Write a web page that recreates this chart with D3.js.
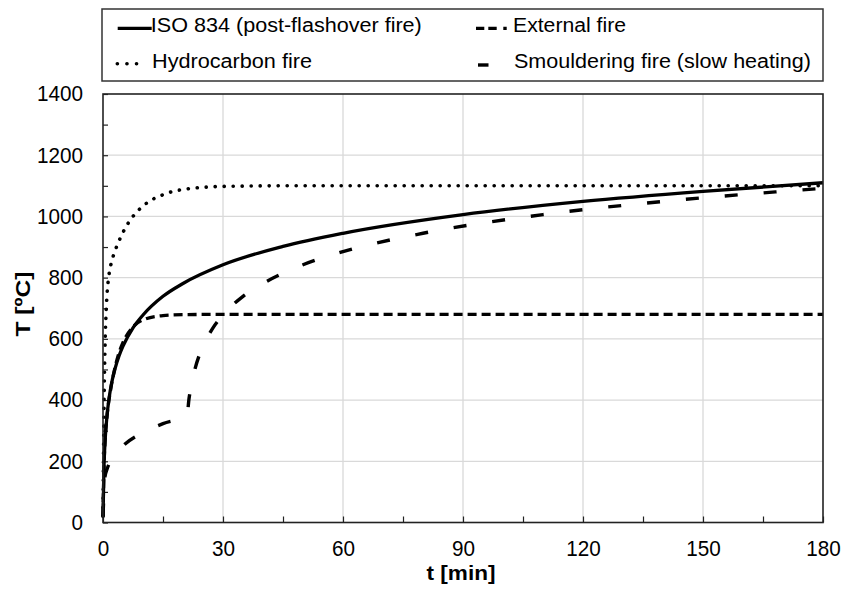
<!DOCTYPE html>
<html>
<head>
<meta charset="utf-8">
<script src="https://cdn.jsdelivr.net/npm/d3@7/dist/d3.min.js"></script>
<style>
  html, body { margin: 0; padding: 0; background: #fff; }
  svg { display: block; font-family: "Liberation Sans", Arial, Helvetica, sans-serif; }
</style>
</head>
<body>
<svg id="chart" width="842" height="589"></svg>
<script>
// ---- Data (time in minutes, temperature in °C) ----
const isoT   = [0, 0.25, 0.5, 1, 1.5, 2, 3, 4, 5, 7.5, 10, 15, 20, 30, 45, 60, 90, 120, 150, 180];
const isoV   = [20, 185, 261, 349, 404, 445, 502, 544, 576, 636, 678, 739, 781, 842, 902, 945, 1006, 1049, 1082, 1110];

const hydroT = [0, 0.1, 0.25, 0.5, 0.75, 1, 1.5, 2, 3, 4, 5, 7.5, 10, 15, 20, 30, 45, 60, 90, 120, 150, 180];
const hydroV = [20, 187, 373, 568, 679, 743, 810, 844, 887, 920, 948, 1000, 1034, 1071, 1088, 1098, 1100, 1100, 1100, 1100, 1100, 1100];

const extT   = [0, 0.25, 0.5, 1, 2, 3, 4, 5, 7.5, 10, 15, 20, 30, 60, 90, 120, 150, 180];
const extV   = [20, 182, 263, 346, 441, 506, 554, 588, 639, 662, 676, 679, 680, 680, 680, 680, 680, 680];

const smoT   = [0, 0.5, 1, 2, 5, 10, 15, 21, 21.5, 22, 23, 24, 25, 27.5, 30, 35, 40, 50, 60, 80, 110, 140, 170, 180];
const smoV   = [20, 150, 174, 203, 250, 294, 323, 350, 404, 445, 502, 544, 576, 636, 678, 739, 781, 842, 885, 945, 1006, 1049, 1082, 1092];

const xTicks = [0, 30, 60, 90, 120, 150, 180];
const yTicks = [0, 200, 400, 600, 800, 1000, 1200, 1400];
const xMinor = [0, 15, 30, 45, 60, 75, 90, 105, 120, 135, 150, 165, 180];
const yMinor = [0, 100, 200, 300, 400, 500, 600, 700, 800, 900, 1000, 1100, 1200, 1300, 1400];

const legendLabels = ["ISO 834 (post-flashover fire)", "External fire", "Hydrocarbon fire", "Smouldering fire (slow heating)"];

// ---- Layout ----
const L = 103, R = 823, T = 94, B = 522.5;
const svg = d3.select("#chart");
const x = d3.scaleLinear().domain([0, 180]).range([L, R]);
const y = d3.scaleLinear().domain([0, 1400]).range([B, T]);

// gridlines
const g = svg.append("g");
g.selectAll("line.hg").data(yTicks.filter(v => v > 0 && v < 1400)).join("line")
  .attr("x1", L).attr("x2", R).attr("y1", d => y(d)).attr("y2", d => y(d))
  .attr("stroke", "#d9d9d9").attr("stroke-width", 1.3);
g.selectAll("line.vg").data(xTicks.filter(v => v > 0 && v < 180)).join("line")
  .attr("y1", T).attr("y2", B).attr("x1", d => x(d)).attr("x2", d => x(d))
  .attr("stroke", "#d9d9d9").attr("stroke-width", 1.3);

// minor inward ticks
const yMinorAxis = d3.axisRight(y).tickValues(yMinor).tickSize(5).tickFormat("");
svg.append("g").attr("transform", `translate(${L},0)`).call(yMinorAxis)
  .call(s => s.select(".domain").remove())
  .selectAll("line").attr("stroke", "#222").attr("stroke-width", 1.2);
const xMinorAxis = d3.axisTop(x).tickValues(xMinor).tickSize(6).tickFormat("");
svg.append("g").attr("transform", `translate(0,${B})`).call(xMinorAxis)
  .call(s => s.select(".domain").remove())
  .selectAll("line").attr("stroke", "#222").attr("stroke-width", 1.2);

// tick labels
const styleTick = s => s.attr("font-size", 21.5).attr("fill", "#000")
  .attr("font-family", "'Liberation Sans', Arial, sans-serif")
  .attr("textLength", function () { return this.textContent.length * 11.5; })
  .attr("lengthAdjust", "spacingAndGlyphs");
const yAxis = d3.axisLeft(y).tickValues(yTicks).tickSize(0).tickPadding(20).tickFormat(d3.format("d"));
svg.append("g").attr("transform", `translate(${L},0)`).call(yAxis)
  .call(s => s.select(".domain").remove())
  .selectAll("text").call(styleTick);
const xAxis = d3.axisBottom(x).tickValues(xTicks).tickSize(0).tickPadding(18.5).tickFormat(d3.format("d"));
svg.append("g").attr("transform", `translate(0,${B})`).call(xAxis)
  .call(s => s.select(".domain").remove())
  .selectAll("text").call(styleTick);

// series
const line = d3.line().x(d => x(d[0])).y(d => y(d[1])).curve(d3.curveMonotoneX);
const zip = (a, b) => a.map((v, i) => [v, b[i]]);
const plot = svg.append("g");
const series = [
  { pts: zip(smoT, smoV),   dash: "13,26",   width: 3.4, cap: "butt" },
  { pts: zip(extT, extV),   dash: "9,5",     width: 3.3, cap: "butt" },
  { pts: zip(hydroT, hydroV), dash: "0.1,8.9", width: 3.6, cap: "round" },
  { pts: zip(isoT, isoV),   dash: null,      width: 3.3, cap: "butt" }
];
series.forEach(s => {
  plot.append("path").attr("d", line(s.pts)).attr("fill", "none")
    .attr("stroke", "#000").attr("stroke-width", s.width)
    .attr("stroke-linecap", s.cap).attr("stroke-linejoin", "round")
    .attr("stroke-dasharray", s.dash);
});

// frame
svg.append("rect").attr("x", L).attr("y", T).attr("width", R - L).attr("height", B - T)
  .attr("fill", "none").attr("stroke", "#222").attr("stroke-width", 1.6);

// axis titles
svg.append("text").attr("x", 461).attr("y", 580).attr("text-anchor", "middle")
  .attr("font-size", 21).attr("font-weight", "bold").attr("textLength", 69).attr("lengthAdjust", "spacingAndGlyphs")
  .text("t [min]");
svg.append("text").attr("transform", "translate(29.5,304) rotate(-90)").attr("text-anchor", "middle")
  .attr("font-size", 21).attr("font-weight", "bold").attr("textLength", 65).attr("lengthAdjust", "spacingAndGlyphs")
  .text("T [ºC]");

// legend
const lg = svg.append("g");
lg.append("rect").attr("x", 102).attr("y", 9).attr("width", 721).attr("height", 72)
  .attr("fill", "#fff").attr("stroke", "#333").attr("stroke-width", 1.5);
const legendItems = [
  { x1: 117.7, x2: 151.7, y: 28.3, dash: null, cap: "butt", w: 3.3, tx: 150.8, ty: 32.4, tl: 271, label: legendLabels[0] },
  { x1: 476, x2: 506.7, y: 28.3, dash: "8.3,4,8.4,6.6,3.4,20", cap: "butt", w: 3.3, tx: 513, ty: 32.4, tl: 113, label: legendLabels[1] },
  { x1: 117.3, x2: 146, y: 63.7, dash: "0.1,9.5", cap: "round", w: 3.6, tx: 152, ty: 68.3, tl: 160, label: legendLabels[2] },
  { x1: 478, x2: 488.5, y: 65, dash: null, cap: "butt", w: 3.4, tx: 514, ty: 68.3, tl: 297, label: legendLabels[3] }
];
legendItems.forEach(it => {
  lg.append("line").attr("x1", it.x1).attr("x2", it.x2).attr("y1", it.y).attr("y2", it.y)
    .attr("stroke", "#000").attr("stroke-width", it.w).attr("stroke-linecap", it.cap)
    .attr("stroke-dasharray", it.dash);
  lg.append("text").attr("x", it.tx).attr("y", it.ty).attr("font-size", 19.5)
    .attr("textLength", it.tl).attr("lengthAdjust", "spacingAndGlyphs").attr("fill", "#000")
    .text(it.label);
});
</script>
</body>
</html>
